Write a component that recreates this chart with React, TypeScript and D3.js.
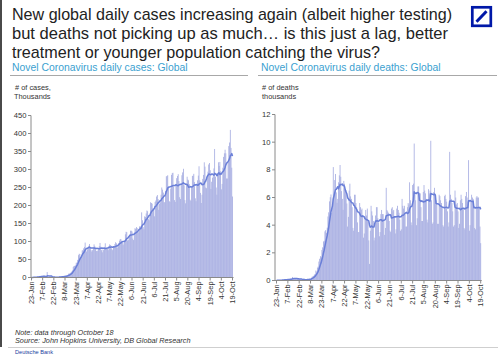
import React from 'react';
import * as d3 from 'd3';

// ---------- data ----------
const startDate = new Date(2020, 0, 23);

const dateTickLabels = ['23-Jan', '7-Feb', '22-Feb', '8-Mar', '23-Mar', '7-Apr', '22-Apr', '7-May', '22-May', '6-Jun', '21-Jun', '6-Jul', '21-Jul', '5-Aug', '20-Aug', '4-Sep', '19-Sep', '4-Oct', '19-Oct'];

const casesTicks = [0, 50, 100, 150, 200, 250, 300, 350, 400, 450];
const deathsTicks = [0, 2, 4, 6, 8, 10, 12];

// Daily new cases, thousands (23-Jan .. 19-Oct)
const dailyCases = [
  // Jan
  0.1, 0.3, 0.5, 0.7, 0.8, 1.5, 1.2, 1.7, 2.0,
  // Feb
  2.1, 2.6, 3.0, 3.9, 3.7, 3.2, 3.4, 2.7, 3.0, 2.5, 2.0, 0.4, 15.1, 6.5, 2.1, 2.1, 2.1, 1.9, 0.5, 0.6, 1.0, 1.4, 0.6, 0.7, 1.0, 0.9, 1.2, 1.4, 1.8,
  // Mar
  2.0, 1.9, 2.5, 2.2, 2.7, 3.9, 4.0, 3.8, 3.9, 4.5, 7.1, 7.4, 10.8, 10.8, 12.0, 13.8, 16.5, 19.6, 29.2, 32.0, 32.5, 33.5, 41.0, 41.0, 49.0, 62.0, 66.0, 65.0, 58.0, 61.0, 75.0,
  // Apr
  76, 81, 85, 97, 79, 72, 78, 84, 88, 93, 84, 76, 72, 76, 83, 92, 87, 82, 74, 73, 75, 79, 87, 96, 86, 76, 70, 78, 76, 85,
  // May
  95, 84, 78, 80, 76, 87, 92, 90, 88, 79, 76, 86, 84, 93, 98, 95, 82, 87, 95, 102, 106, 107, 102, 97, 90, 95, 103, 120, 127, 126, 103,
  // Jun
  104, 115, 120, 130, 130, 128, 108, 104, 124, 137, 135, 140, 137, 123, 127, 142, 141, 142, 181, 159, 140, 134, 170, 168, 178, 186, 184, 162, 159, 170,
  // Jul
  209, 207, 205, 192, 187, 170, 210, 214, 225, 229, 218, 188, 205, 209, 230, 250, 244, 236, 209, 209, 240, 281, 282, 284, 252, 212, 210, 247, 285, 290, 291,
  // Aug
  253, 215, 210, 260, 276, 282, 287, 268, 223, 218, 256, 284, 292, 302, 256, 215, 206, 257, 280, 272, 270, 259, 216, 213, 251, 282, 283, 288, 265, 220, 212,
  // Sep
  258, 270, 283, 309, 270, 235, 207, 230, 274, 285, 320, 308, 250, 248, 278, 294, 314, 318, 298, 246, 266, 277, 281, 303, 357, 280, 250, 230, 290, 320,
  // Oct
  310, 321, 295, 245, 260, 305, 335, 345, 355, 345, 275, 275, 320, 365, 375, 410, 360, 305, 225,
];

// Daily deaths, thousands (23-Jan .. 19-Oct)
const dailyDeaths = [
  // Jan
  0.008, 0.016, 0.015, 0.024, 0.026, 0.026, 0.038, 0.043, 0.046,
  // Feb
  0.045, 0.058, 0.064, 0.066, 0.073, 0.073, 0.086, 0.089, 0.097, 0.108, 0.097, 0.125, 0.254, 0.145, 0.143, 0.142, 0.106, 0.098, 0.136, 0.118, 0.109, 0.097, 0.150, 0.071, 0.064, 0.038, 0.044, 0.058, 0.064,
  // Mar
  0.071, 0.067, 0.073, 0.085, 0.097, 0.103, 0.102, 0.106, 0.200, 0.271, 0.292, 0.336, 0.441, 0.403, 0.721, 0.643, 0.926, 1.01, 1.37, 1.57, 1.76, 1.67, 2.21, 2.40, 2.82, 2.87, 3.55, 3.64, 3.45, 3.82, 4.63,
  // Apr
  4.93, 5.72, 6.02, 6.22, 4.88, 5.30, 8.20, 6.43, 7.26, 7.70, 6.37, 5.62, 5.90, 7.10, 7.60, 8.35, 7.50, 6.46, 5.90, 5.11, 7.20, 6.99, 6.60, 6.52, 5.57, 3.90, 4.60, 6.50, 7.00, 6.08,
  // May
  5.90, 5.30, 3.80, 3.60, 6.20, 6.20, 5.60, 5.30, 4.20, 3.50, 3.50, 5.60, 5.30, 5.10, 5.20, 4.60, 3.10, 3.40, 4.60, 5.10, 4.70, 5.20, 4.30, 2.90, 1.20, 3.60, 5.40, 5.00, 4.70, 4.30, 2.90,
  // Jun
  3.10, 4.70, 5.30, 5.30, 4.50, 4.20, 3.20, 3.50, 4.80, 5.10, 4.80, 4.80, 4.30, 3.30, 3.80, 6.70, 5.10, 5.00, 4.90, 4.30, 3.60, 3.50, 5.20, 5.30, 5.00, 5.10, 4.60, 3.40, 3.70, 5.20,
  // Jul
  5.40, 5.10, 4.90, 4.40, 3.60, 3.70, 5.90, 5.40, 5.20, 5.40, 4.80, 3.90, 3.90, 5.30, 5.60, 5.50, 7.10, 5.80, 4.20, 4.00, 6.90, 7.00, 9.90, 6.40, 5.80, 4.00, 4.50, 6.80, 6.80, 6.30, 6.30,
  // Aug
  5.30, 4.30, 4.30, 6.40, 6.90, 6.50, 6.30, 5.90, 4.40, 4.20, 6.60, 6.30, 6.50, 10.1, 5.80, 4.10, 4.20, 6.40, 6.70, 6.00, 5.80, 5.60, 4.10, 4.10, 6.20, 6.10, 5.80, 5.60, 5.30, 4.00, 3.90,
  // Sep
  6.10, 6.20, 5.90, 5.70, 5.00, 3.90, 4.20, 9.30, 6.20, 5.90, 5.60, 5.00, 3.90, 4.00, 6.50, 6.00, 5.50, 5.60, 5.00, 3.80, 4.10, 5.80, 6.20, 5.90, 5.60, 5.20, 3.80, 3.70, 6.10, 6.40,
  // Oct
  6.00, 5.70, 8.70, 3.60, 4.00, 5.80, 6.20, 6.00, 5.90, 5.30, 3.80, 3.70, 6.00, 6.10, 6.00, 6.00, 5.30, 3.90, 2.70,
];

const titleLines = [
  'New global daily cases increasing again (albeit higher testing)',
  'but deaths not picking up as much… is this just a lag, better',
  'treatment or younger population catching the virus?',
];
const titleWidths = [440, 436, 368];

// ---------- helpers ----------
const FONT = '"Liberation Sans", Arial, Helvetica, sans-serif';
const BAR = '#a3aae0';
const LINE = '#6a7fd8';
const AXIS = '#8a8a8a';
const TEXT = '#333';

const dates = dailyCases.map((_, i) => d3.timeDay.offset(startDate, i));
const parseTick = d3.timeParse('%d-%b-%Y');
const tickDates = dateTickLabels.map((l) => parseTick(l + '-2020') as Date);

function movingAvg(v: number[]) {
  return v.map((_, i) => d3.mean(v.slice(Math.max(0, i - 6), i + 1)) as number);
}

type PanelProps = {
  values: number[];
  yMax: number;
  yTicks: number[];
  axisX: number;
  x0: number;
  x1: number;
  yBottom: number;
  yTop: number;
};

function Panel({ values, yMax, yTicks, axisX, x0, x1, yBottom, yTop }: PanelProps) {
  const x = d3.scaleTime().domain([dates[0], dates[dates.length - 1]]).range([x0, x1]);
  const y = d3.scaleLinear().domain([0, yMax]).range([yBottom, yTop]);
  const step = (x1 - x0) / (dates.length - 1);
  const ma = movingAvg(values);
  const line = d3
    .line<number>()
    .x((_, i) => x(dates[i]))
    .y((d) => y(d))
    .curve(d3.curveLinear);
  return (
    <g>
      {values.map((v, i) => (
        <rect
          key={i}
          x={x(dates[i]) - step / 2}
          y={y(v)}
          width={step + 0.05}
          height={Math.max(0, yBottom - y(v))}
          fill={BAR}
        />
      ))}
      <path d={line(ma) || ''} fill="none" stroke={LINE} strokeWidth={1.5} strokeLinejoin="round" />
      {/* y axis */}
      <line x1={axisX} x2={axisX} y1={yBottom} y2={y(yMax)} stroke={AXIS} strokeWidth={1} />
      {yTicks.map((t) => (
        <g key={t}>
          <line x1={axisX - 3} x2={axisX} y1={y(t)} y2={y(t)} stroke={AXIS} />
          <text x={axisX - 4.5} y={y(t)} dy="0.33em" textAnchor="end" fontSize={7.6} fill={TEXT} fontFamily={FONT}>
            {t}
          </text>
        </g>
      ))}
      {/* x axis */}
      <line x1={axisX} x2={x1 + 1} y1={yBottom} y2={yBottom} stroke={AXIS} strokeWidth={1} />
      {tickDates.map((d, i) => (
        <g key={i} transform={`translate(${x(d)},${yBottom})`}>
          <line y1={0} y2={3} stroke={AXIS} />
          <text transform="translate(0,4) rotate(-90)" dy="0.33em" textAnchor="end" fontSize={7.4} fill={TEXT} fontFamily={FONT}>
            {dateTickLabels[i]}
          </text>
        </g>
      ))}
    </g>
  );
}

export default function App() {
  return (
    <div style={{ position: 'absolute', left: 0, top: 0 }}>
      <svg width={500} height={355} style={{ display: 'block', background: '#fff' }}>
        <rect x={0} y={0} width={500} height={355} fill="#fff" />
        {/* left border */}
        <rect x={0} y={0} width={2} height={347} fill="#4a4a4a" />
        {/* title */}
        {titleLines.map((t, i) => (
          <text
            key={i}
            x={12}
            y={19.5 + i * 19}
            fontSize={16.4}
            fill="#222"
            fontFamily={FONT}
            textLength={titleWidths[i]}
            lengthAdjust="spacingAndGlyphs"
          >
            {t}
          </text>
        ))}
        {/* logo */}
        <rect x={472.3} y={7.3} width={18.5} height={18.5} fill="none" stroke="#0018a8" strokeWidth={2.7} />
        <line x1={476.5} y1={21.8} x2={486.5} y2={11.2} stroke="#0018a8" strokeWidth={3} />
        {/* subtitles */}
        <text x={12} y={71} fontSize={10.4} fill="#3b9fd0" fontFamily={FONT}>
          Novel Coronavirus daily cases: Global
        </text>
        <text x={261} y={71} fontSize={10.4} fill="#3b9fd0" fontFamily={FONT}>
          Novel Coronavirus daily deaths: Global
        </text>
        <line x1={10} x2={248} y1={75.5} y2={75.5} stroke="#a8a8a8" strokeWidth={1} />
        <line x1={258} x2={497} y1={75.5} y2={75.5} stroke="#a8a8a8" strokeWidth={1} />
        {/* unit labels */}
        <text x={15} y={90} fontSize={7.4} fill={TEXT} fontFamily={FONT}># of cases,</text>
        <text x={14} y={98.5} fontSize={7.4} fill={TEXT} fontFamily={FONT}>Thousands</text>
        <text x={262} y={90} fontSize={7.4} fill={TEXT} fontFamily={FONT}># of deaths</text>
        <text x={262} y={98.5} fontSize={7.4} fill={TEXT} fontFamily={FONT}>thousands</text>
        <Panel values={dailyCases} yMax={450} yTicks={casesTicks} axisX={31} x0={31.5} x1={232.5} yBottom={277.5} yTop={115.5} />
        <Panel values={dailyDeaths} yMax={12} yTicks={deathsTicks} axisX={275} x0={276.5} x1={480.7} yBottom={280.5} yTop={114.5} />
        {/* notes */}
        <text x={15} y={335} fontSize={7.3} fontStyle="italic" fill={TEXT} fontFamily={FONT}>
          Note: data through October 18
        </text>
        <text x={15} y={342.7} fontSize={7.3} fontStyle="italic" fill={TEXT} fontFamily={FONT}>
          Source: John Hopkins University, DB Global Research
        </text>
        <line x1={8} x2={498} y1={347.5} y2={347.5} stroke="#cfcfcf" strokeWidth={1} />
        <text x={15} y={354} fontSize={5.6} fill="#1a3da0" fontFamily={FONT}>
          Deutsche Bank
        </text>
      </svg>
    </div>
  );
}
